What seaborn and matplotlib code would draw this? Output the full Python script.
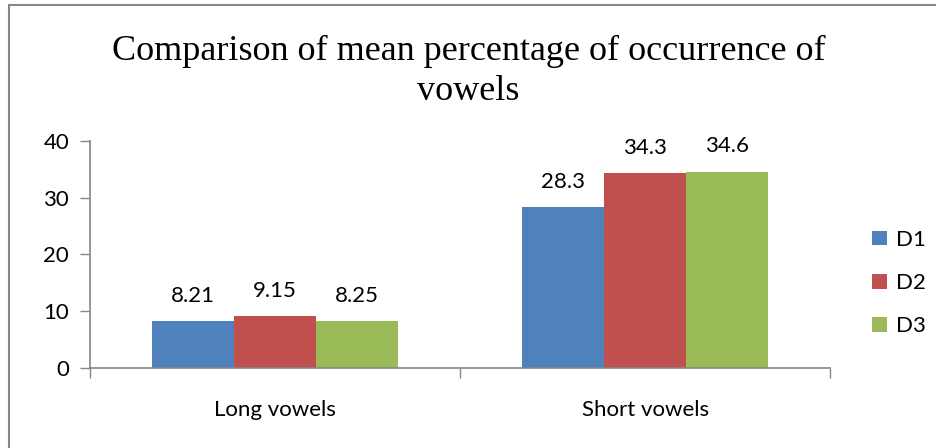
import matplotlib
matplotlib.use("Agg")
import matplotlib.pyplot as plt
import matplotlib.patches as mpatches
import pandas as pd
import seaborn as sns

sns.set_theme(style="white")
plt.rcParams["font.family"] = ["Lato", "DejaVu Sans"]
plt.rcParams["text.color"] = "black"

categories = ["Long vowels", "Short vowels"]
series = ["D1", "D2", "D3"]
values = {
    "D1": [8.21, 28.3],
    "D2": [9.15, 34.3],
    "D3": [8.25, 34.6],
}
labels = {
    "D1": ["8.21", "28.3"],
    "D2": ["9.15", "34.3"],
    "D3": ["8.25", "34.6"],
}
colors = ["#4F81BD", "#C0504D", "#9BBB59"]
yticks = [0, 10, 20, 30, 40]

df = pd.DataFrame(
    [(c, s, values[s][i]) for s in series for i, c in enumerate(categories)],
    columns=["category", "series", "value"],
)

fig = plt.figure(figsize=(9.37, 4.48), dpi=100)
ax = fig.add_axes([0.096, 0.1786, 0.79, 0.5067])

sns.barplot(
    data=df, x="category", y="value", hue="series", order=categories,
    hue_order=series, palette=colors, width=0.665, gap=0, saturation=1,
    linewidth=0, ax=ax, legend=True,
)

for cont, s in zip(ax.containers, series):
    ax.bar_label(cont, labels=labels[s], padding=11, fontsize=16, color="black")

ax.set_xlim(-0.5, 1.5)
ax.set_ylim(0, 40)
ax.set_yticks(yticks)
ax.set_xlabel("")
ax.set_ylabel("")
ax.tick_params(axis="y", which="major", left=True, length=7, width=1,
               color="#868686", labelsize=16, pad=8, labelcolor="black")
ax.tick_params(axis="x", which="major", bottom=False, labelsize=16, pad=17,
               labelcolor="black")
ax.set_xticks([-0.5, 0.5, 1.5], minor=True)
ax.tick_params(axis="x", which="minor", bottom=True, length=7, width=1,
               color="#868686")
for side in ["top", "right"]:
    ax.spines[side].set_visible(False)
for side in ["left", "bottom"]:
    ax.spines[side].set_color("#868686")
    ax.spines[side].set_linewidth(1.2)

handles, _ = ax.get_legend_handles_labels()
ax.legend(handles, series, loc="center left", bbox_to_anchor=(1.03, 0.374),
          frameon=False, fontsize=16, handlelength=0.65, handleheight=0.65,
          labelspacing=1.05, handletextpad=0.4, labelcolor="black")

fig.text(0.5, 0.84, "Comparison of mean percentage of occurrence of\nvowels",
         ha="center", va="center", fontsize=26, linespacing=1.3, color="black",
         family=["Liberation Serif", "DejaVu Serif"])

border = mpatches.Rectangle((9 / 937, -0.1), 1.2, 1.1 - 5 / 448,
                            transform=fig.transFigure, fill=False,
                            edgecolor="#868686", linewidth=1.5)
fig.patches.append(border)

fig.savefig("out.png", dpi=100)
